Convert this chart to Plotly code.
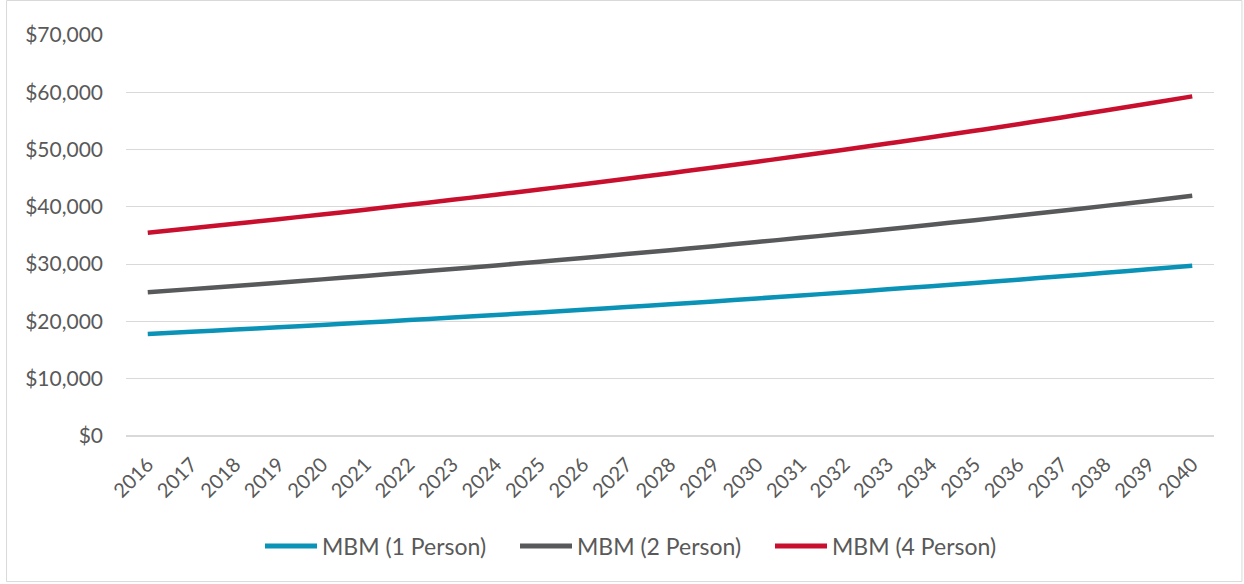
import plotly.graph_objects as go

# Years on the category axis
years = [str(y) for y in range(2016, 2041)]

# MBM thresholds (dollars)
mbm_1_person = [17800, 18180, 18580, 18980, 19390, 19810, 20230, 20670, 21120, 21570,
                22040, 22520, 23000, 23500, 24010, 24530, 25050, 25600, 26150, 26710,
                27290, 27880, 28480, 29100, 29730]
mbm_2_person = [25100, 25640, 26200, 26760, 27340, 27930, 28540, 29150, 29780, 30430,
                31080, 31760, 32440, 33140, 33860, 34590, 35340, 36100, 36880, 37680,
                38490, 39320, 40170, 41040, 41930]
mbm_4_person = [35500, 36270, 37050, 37850, 38670, 39500, 40360, 41230, 42120, 43030,
                43960, 44910, 45880, 46870, 47880, 48920, 49970, 51050, 52150, 53280,
                54430, 55610, 56810, 58030, 59290]

series = [
    ("MBM (1 Person)", mbm_1_person, "#0A93B6"),
    ("MBM (2 Person)", mbm_2_person, "#58595B"),
    ("MBM (4 Person)", mbm_4_person, "#C8102E"),
]

fig = go.Figure()
for name, vals, col in series:
    fig.add_trace(go.Scatter(x=years, y=vals, name=name, mode="lines", showlegend=False,
                             line=dict(color=col, width=4.5, shape="spline")))

# Excel-style legend underneath: long line swatch + label, drawn in paper coords
W, H = 1088, 401          # plot area size in px
L, B = 126, 436           # plot area left / bottom in px
shapes = [dict(type="rect", xref="paper", yref="paper",
               x0=-0.1098, x1=1.0257, y0=-0.363, y1=1.086,
               line=dict(color="#D9D9D9", width=1), fillcolor="rgba(0,0,0,0)",
               layer="below")]
annotations = []
leg_y = (B - 546) / H
for i, (name, vals, col) in enumerate(series):
    x0 = 265 + 255 * i
    shapes.append(dict(type="line", xref="paper", yref="paper",
                       x0=(x0 - L) / W, x1=(x0 + 52 - L) / W, y0=leg_y, y1=leg_y,
                       line=dict(color=col, width=5)))
    annotations.append(dict(text=name, xref="paper", yref="paper", x=(x0 + 55 - L) / W,
                            y=leg_y, xanchor="left", yanchor="middle", showarrow=False,
                            font=dict(size=23, color="#595959")))

font = "Lato, Calibri, Carlito, sans-serif"
fig.update_layout(
    width=1244, height=584,
    margin=dict(l=126, r=30, t=35, b=148),
    paper_bgcolor="white", plot_bgcolor="white",
    font=dict(family=font, size=20, color="#595959"),
    showlegend=False,
    xaxis=dict(type="category", range=[-0.5, 24.5], tickangle=-45, showgrid=False,
               showline=False, ticks="", tickfont=dict(size=20), ticklabelstandoff=12),
    yaxis=dict(range=[0, 70000], dtick=10000, tickprefix="$", tickformat=",d",
               gridcolor="#D9D9D9", gridwidth=1, zeroline=True, zerolinecolor="#D9D9D9",
               showline=False, ticks="", ticklabelstandoff=22, tickfont=dict(size=21)),
    shapes=shapes,
    annotations=annotations,
)

# drop the default page margin so the figure sits at the window origin
fig.write_html("out.html", config={"displayModeBar": False},
               post_script="document.body.style.margin='0';")
